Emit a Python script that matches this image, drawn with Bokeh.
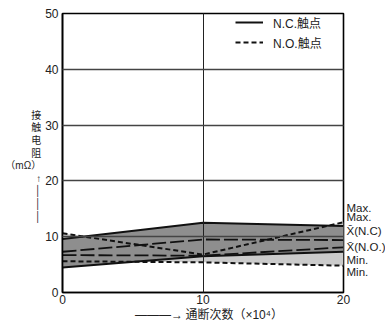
from bokeh.plotting import figure
from bokeh.models import (Legend, LegendItem, FixedTicker, Range1d, LinearAxis)
from bokeh.embed import file_html
from bokeh.resources import INLINE

# ---- data ----
cycles = [0, 10, 20]                 # x 10^4 operations
nc_max = [9.6, 12.5, 11.9]
nc_mean = [7.3, 9.5, 9.4]
nc_min = [4.5, 6.5, 7.3]
no_max = [10.6, 6.8, 12.6]
no_mean = [6.7, 6.6, 8.1]
no_min = [5.6, 5.4, 4.8]
x_ticks = [0, 10, 20]
y_ticks = [0, 10, 20, 30, 40, 50]
right_labels = ["Max.", "Max.", "X\u0304(N.C)", "X\u0304(N.O.)", "Min.", "Min."]
right_label_pos = [15.2, 13.5, 11.0, 8.1, 5.8, 3.6]
legend_labels = ["N.C.触点", "N.O.触点"]
y_title = "\n".join(["\u3000", "\u3000", "接", "触", "电", "阻", "（mΩ）", "↑", "│", "│", "│"])
x_title = "\u2002\u2002———→\u2009通断次数（×10⁴）"

FONT = "Liberation Sans, Noto Sans CJK SC, DejaVu Sans"

p = figure(frame_width=281, frame_height=279, min_border_left=62,
           min_border_right=40, min_border_top=13, min_border_bottom=43,
           x_range=Range1d(0, 20), y_range=Range1d(0, 50),
           output_backend="svg", toolbar_location=None)
p.background_fill_color = "white"
p.border_fill_color = "white"
p.outline_line_color = "black"
p.outline_line_width = 1.6

# bands
p.varea(x=cycles, y1=no_min, y2=no_max, fill_color="#cbcbcb")
p.varea(x=cycles, y1=nc_min, y2=nc_max, fill_color="#8e8e8e")

# lines
r_ncmax = p.line(cycles, nc_max, line_color="#111111", line_width=2)
p.line(cycles, nc_min, line_color="#111111", line_width=2)
p.line(cycles, nc_mean, line_color="#111111", line_width=1.8, line_dash="14 4")
r_nomax = p.line(cycles, no_max, line_color="#111111", line_width=2, line_dash="5 3")
p.line(cycles, no_min, line_color="#111111", line_width=2, line_dash="5 3")
p.line(cycles, no_mean, line_color="#111111", line_width=1.8, line_dash="14 4")

# axes
for ax in (p.xaxis[0], p.yaxis[0]):
    ax.major_tick_line_color = None
    ax.minor_tick_line_color = None
    ax.major_tick_out = 0
    ax.major_tick_in = 0
    ax.minor_tick_out = 0
    ax.axis_line_color = "black"
    ax.axis_line_width = 1.6
    ax.major_label_text_font = FONT
    ax.major_label_text_font_size = "12px"
    ax.major_label_text_color = "#222222"
    ax.axis_label_text_font = FONT
    ax.axis_label_text_font_style = "normal"
    ax.axis_label_text_color = "#222222"
p.xaxis.ticker = FixedTicker(ticks=x_ticks)
p.yaxis.ticker = FixedTicker(ticks=y_ticks)
p.xaxis.major_label_standoff = 2
p.yaxis.major_label_standoff = 4

p.xaxis.axis_label = x_title
p.xaxis.axis_label_text_font_size = "12px"
p.xaxis.axis_label_standoff = 1

p.yaxis.axis_label = y_title
p.yaxis.axis_label_orientation = "horizontal"
p.yaxis.axis_label_text_font_size = "10px"
p.yaxis.axis_label_text_align = "center"
p.yaxis.axis_label_text_line_height = 1.15
p.yaxis.axis_label_standoff = 1

# right-side labels as a second axis
rax = LinearAxis(ticker=FixedTicker(ticks=right_label_pos),
                 major_label_overrides={v: t for v, t in zip(right_label_pos, right_labels)})
rax.major_tick_line_color = None
rax.minor_tick_line_color = None
rax.major_tick_out = 0
rax.major_tick_in = 0
rax.minor_tick_out = 0
rax.axis_line_color = None
rax.major_label_standoff = 3
rax.major_label_text_font = "Liberation Sans Narrow, Liberation Sans"
rax.major_label_text_font_size = "11.5px"
rax.major_label_text_color = "#222222"
p.add_layout(rax, "right")

# grid
p.xgrid.ticker = FixedTicker(ticks=[10])
p.ygrid.ticker = FixedTicker(ticks=[10, 20, 30, 40])
p.xgrid.grid_line_color = "#222222"
p.xgrid.grid_line_width = 1
p.ygrid.grid_line_color = "#444444"
p.ygrid.grid_line_width = 1.6
p.xgrid.level = "annotation"
p.ygrid.level = "annotation"

# legend
legend = Legend(items=[LegendItem(label=legend_labels[0], renderers=[r_ncmax]),
                       LegendItem(label=legend_labels[1], renderers=[r_nomax])],
                location=(173, 240), glyph_width=28, glyph_height=20,
                label_height=20, label_standoff=10, padding=0, margin=0,
                spacing=0, border_line_color=None, background_fill_alpha=0,
                label_text_font=FONT, label_text_font_size="12px",
                label_text_color="#222222")
p.add_layout(legend)

open("out.html", "w").write(file_html(p, INLINE))
